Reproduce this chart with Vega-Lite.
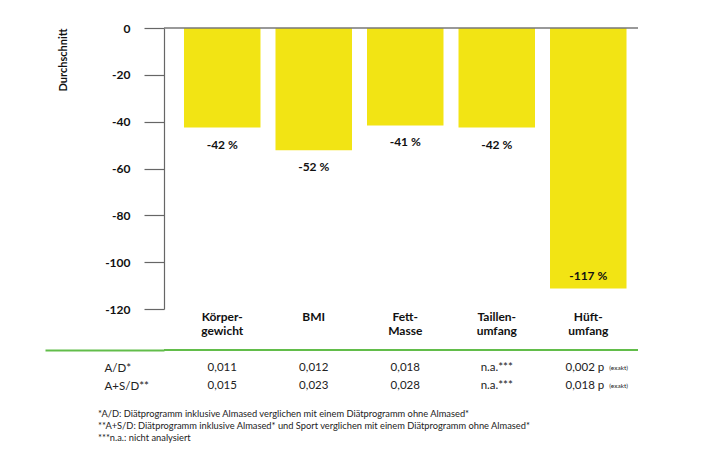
{
  "$schema": "https://vega.github.io/schema/vega-lite/v6.json",
  "padding": {"left": 44, "top": 22, "right": 5, "bottom": 5},
  "background": "white",
  "bounds": "flush",
  "spacing": 41,
  "datasets": {
    "bars": [
      {"cat": "Körper-\ngewicht", "value": -42.5, "label": "-42 %"},
      {"cat": "BMI", "value": -52.2, "label": "-52 %"},
      {"cat": "Fett-\nMasse", "value": -41.6, "label": "-41 %"},
      {"cat": "Taillen-\numfang", "value": -42.5, "label": "-42 %"},
      {"cat": "Hüft-\numfang", "value": -111.2, "label": "-117 %"}
    ],
    "table": [
      {"row": "A/D*", "cat": "Körper-\ngewicht", "val": "0,011"},
      {"row": "A/D*", "cat": "BMI", "val": "0,012"},
      {"row": "A/D*", "cat": "Fett-\nMasse", "val": "0,018"},
      {"row": "A/D*", "cat": "Taillen-\numfang", "val": "n.a.***"},
      {"row": "A/D*", "cat": "Hüft-\numfang", "val": "0,002 p", "note": "(exakt)"},
      {"row": "A+S/D**", "cat": "Körper-\ngewicht", "val": "0,015"},
      {"row": "A+S/D**", "cat": "BMI", "val": "0,023"},
      {"row": "A+S/D**", "cat": "Fett-\nMasse", "val": "0,028"},
      {"row": "A+S/D**", "cat": "Taillen-\numfang", "val": "n.a.***"},
      {"row": "A+S/D**", "cat": "Hüft-\numfang", "val": "0,018 p", "note": "(exakt)"}
    ]
  },
  "title": {
    "text": [
      "*A/D: Diätprogramm inklusive Almased verglichen mit einem Diätprogramm ohne Almased*",
      "**A+S/D: Diätprogramm inklusive Almased* und Sport verglichen mit einem Diätprogramm ohne Almased*",
      "***n.a.: nicht analysiert"
    ],
    "orient": "bottom",
    "anchor": "start",
    "font": "Lato",
    "fontSize": 9.3,
    "fontWeight": "normal",
    "color": "#222222",
    "lineHeight": 12,
    "offset": 18,
    "dx": 54
  },
  "config": {
    "view": {"stroke": null},
    "font": "Lato"
  },
  "vconcat": [
    {
      "width": 474,
      "height": 281,
      "data": {"name": "bars"},
      "encoding": {
        "x": {
          "field": "cat",
          "type": "nominal",
          "sort": null,
          "scale": {"type": "band", "paddingInner": 0.164, "paddingOuter": 0.172, "align": 0.635},
          "axis": {
            "title": null,
            "orient": "bottom",
            "domain": false,
            "ticks": false,
            "labelAngle": 0,
            "labelExpr": "split(datum.label, '\\n')",
            "labelBaseline": "top",
            "labelPadding": 2,
            "labelFont": "Lato",
            "labelFontWeight": "bold",
            "labelFontSize": 12,
            "labelLineHeight": 14,
            "labelColor": "#111111"
          }
        }
      },
      "layer": [
        {
          "mark": {"type": "bar", "color": "#F2E414"},
          "encoding": {
            "y": {
              "field": "value",
              "type": "quantitative",
              "scale": {"domain": [-120, 0], "nice": false, "zero": false},
              "axis": {
                "values": [0, -10, -20, -30, -40, -50, -60, -70, -80, -90, -100, -110, -120],
                "labelExpr": "datum.value % 20 == 0 ? '' + datum.value : ''",
                "tickSize": {"condition": {"test": "datum.value % 20 == 0", "value": 20}, "value": 8},
                "tickColor": "#666666",
                "tickWidth": 1.2,
                "domainColor": "#666666",
                "domainWidth": 1.2,
                "grid": false,
                "labelPadding": 14,
                "labelFont": "Lato",
                "labelFontWeight": "bold",
                "labelFontSize": 12,
                "labelColor": "#111111",
                "title": "Durchschnitt",
                "titleAnchor": "end",
                "titleFont": "Lato",
                "titleFontSize": 11,
                "titleFontWeight": "bold",
                "titleColor": "#111111",
                "titlePadding": 36
              }
            }
          }
        },
        {
          "data": {"values": [{"k": 1}]},
          "mark": {"type": "rule", "color": "#777777", "strokeWidth": 1.5},
          "encoding": {"x": null, "y": {"datum": 0, "type": "quantitative"}}
        },
        {
          "transform": [{"filter": "datum.value > -100"}],
          "mark": {"type": "text", "font": "Lato", "fontWeight": "bold", "fontSize": 12, "color": "#111111", "baseline": "middle", "dy": 17},
          "encoding": {
            "y": {"field": "value", "type": "quantitative"},
            "text": {"field": "label"}
          }
        },
        {
          "transform": [{"filter": "datum.value <= -100"}],
          "mark": {"type": "text", "font": "Lato", "fontWeight": "bold", "fontSize": 12, "color": "#111111", "baseline": "middle", "dy": -12},
          "encoding": {
            "y": {"field": "value", "type": "quantitative"},
            "text": {"field": "label"}
          }
        }
      ]
    },
    {
      "width": 474,
      "height": 36,
      "layer": [
        {
          "data": {"values": [{"k": 1}]},
          "mark": {"type": "rule", "color": "#62BD4A", "strokeWidth": 2},
          "encoding": {
            "y": {
              "datum": "line",
              "type": "nominal",
              "scale": {"type": "point", "padding": 0, "domain": ["line", "A/D*", "A+S/D**"]},
              "axis": {
                "title": null,
                "domain": false,
                "labelExpr": "datum.value == 'line' ? '' : datum.label",
                "tickSize": {"condition": {"test": "datum.value == 'line'", "value": 119}, "value": 0},
                "tickColor": "#62BD4A",
                "tickWidth": 2,
                "labelAlign": "left",
                "labelBaseline": "middle",
                "labelPadding": {"condition": {"test": "datum.value == 'line'", "value": -119}, "value": 60},
                "labelFont": "Lato",
                "labelFontSize": 11.5,
                "labelColor": "#222222"
              }
            }
          }
        },
        {
          "data": {"name": "table"},
          "transform": [{"filter": "datum.note == null"}],
          "mark": {"type": "text", "font": "Lato", "fontSize": 11.5, "color": "#222222", "baseline": "middle"},
          "encoding": {
            "x": {
              "field": "cat",
              "type": "nominal",
              "sort": null,
              "scale": {"type": "band", "paddingInner": 0.164, "paddingOuter": 0.172, "align": 0.635},
              "axis": null
            },
            "y": {"field": "row", "type": "nominal"},
            "text": {"field": "val"}
          }
        },
        {
          "data": {"name": "table"},
          "transform": [{"filter": "datum.note != null"}],
          "mark": {"type": "text", "font": "Lato", "fontSize": 11.5, "color": "#222222", "baseline": "middle", "align": "right", "dx": 16},
          "encoding": {
            "x": {"field": "cat", "type": "nominal", "sort": null},
            "y": {"field": "row", "type": "nominal"},
            "text": {"field": "val"}
          }
        },
        {
          "data": {"name": "table"},
          "transform": [{"filter": "datum.note != null"}],
          "mark": {"type": "text", "font": "Lato", "fontSize": 6.5, "color": "#222222", "baseline": "middle", "align": "left", "dx": 21},
          "encoding": {
            "x": {"field": "cat", "type": "nominal", "sort": null},
            "y": {"field": "row", "type": "nominal"},
            "text": {"field": "note"}
          }
        }
      ]
    }
  ]
}
